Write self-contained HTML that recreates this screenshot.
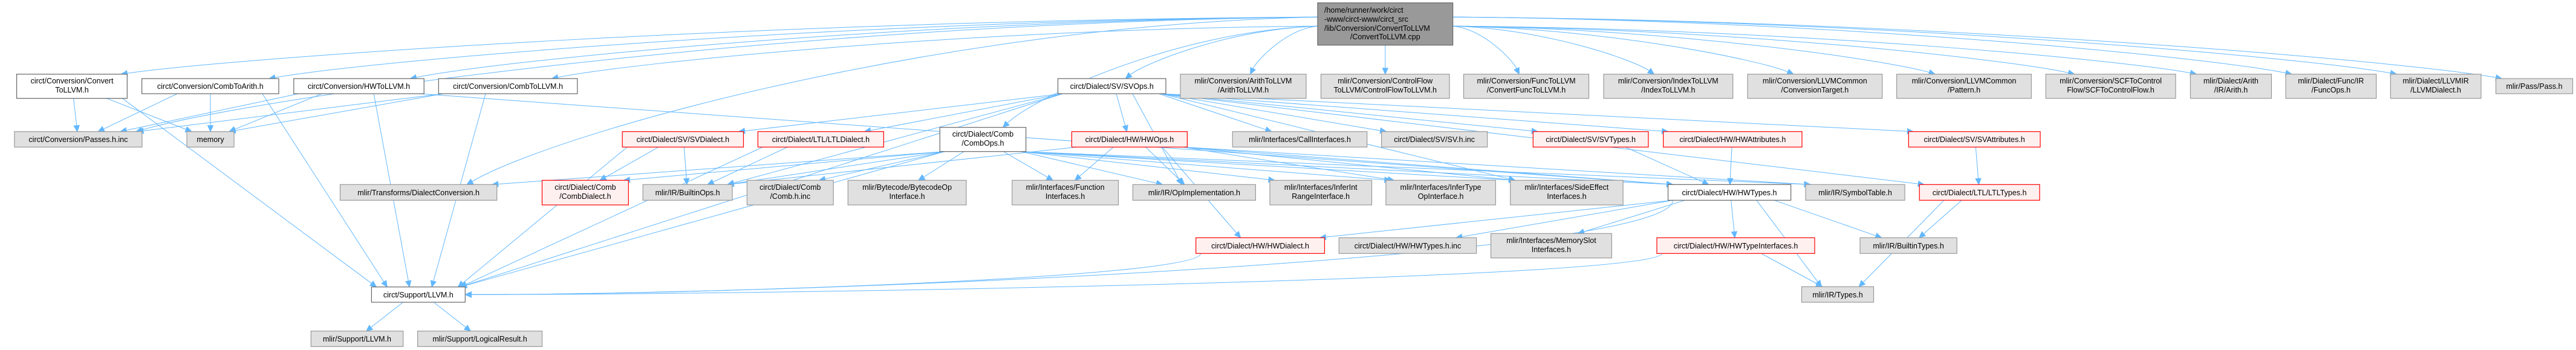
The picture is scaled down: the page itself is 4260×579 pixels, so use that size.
<!DOCTYPE html>
<html><head><meta charset="utf-8">
<style>
html,body{margin:0;padding:0;background:#fff;}
svg{display:block;}
text{font-family:"Liberation Sans","DejaVu Sans",sans-serif;font-size:12.5px;fill:#000;}
.w{fill:#fff;stroke:#666;stroke-width:1.2;}
.g{fill:#e0e0e0;stroke:#999;stroke-width:1.2;}
.r{fill:#fff0f0;stroke:#f00;stroke-width:1.2;}
.d{fill:#999;stroke:#666;stroke-width:1.2;}
</style></head>
<body>
<svg id="s" width="4260" height="579" viewBox="0 0 4260 579" xmlns="http://www.w3.org/2000/svg">
<g id="edges" fill="none" stroke="#63b8ff" stroke-width="1"></g>
<g id="heads" fill="#63b8ff" stroke="#63b8ff" stroke-width="1"></g>
<g id="nodes" text-anchor="middle">
<rect id="T" class="d" x="2179" y="4.7" width="223.6" height="70"/>
<text x="2190" y="21" text-anchor="start">/home/runner/work/circt</text>
<text x="2190" y="36" text-anchor="start">-www/circt-www/circt_src</text>
<text x="2190" y="51" text-anchor="start">/lib/Conversion/ConvertToLLVM</text>
<text x="2290.8" y="65">/ConvertToLLVM.cpp</text>

<rect id="a1" class="w" x="27.6" y="122.7" width="182.7" height="40"/>
<text x="119" y="138">circt/Conversion/Convert</text><text x="119" y="153">ToLLVM.h</text>
<rect id="a2" class="w" x="234.6" y="130" width="226.4" height="25"/>
<text x="347.8" y="147">circt/Conversion/CombToArith.h</text>
<rect id="a3" class="w" x="485.8" y="130" width="215.4" height="25"/>
<text x="593.5" y="147">circt/Conversion/HWToLLVM.h</text>
<rect id="a4" class="w" x="725.3" y="130" width="229.5" height="25"/>
<text x="840" y="147">circt/Conversion/CombToLLVM.h</text>
<rect id="a5" class="w" x="1749.5" y="130" width="178.5" height="25"/>
<text x="1838.7" y="147">circt/Dialect/SV/SVOps.h</text>
<rect id="a6" class="g" x="1952" y="122.7" width="208" height="40"/>
<text x="2056" y="138">mlir/Conversion/ArithToLLVM</text><text x="2056" y="153">/ArithToLLVM.h</text>
<rect id="a7" class="g" x="2184.5" y="122.7" width="212.5" height="40"/>
<text x="2290.7" y="138">mlir/Conversion/ControlFlow</text><text x="2290.7" y="153">ToLLVM/ControlFlowToLLVM.h</text>
<rect id="a8" class="g" x="2420.5" y="122.7" width="207" height="40"/>
<text x="2524" y="138">mlir/Conversion/FuncToLLVM</text><text x="2524" y="153">/ConvertFuncToLLVM.h</text>
<rect id="a9" class="g" x="2652" y="122.7" width="213.7" height="40"/>
<text x="2758.8" y="138">mlir/Conversion/IndexToLLVM</text><text x="2758.8" y="153">/IndexToLLVM.h</text>
<rect id="a10" class="g" x="2890" y="122.7" width="222.7" height="40"/>
<text x="3001.3" y="138">mlir/Conversion/LLVMCommon</text><text x="3001.3" y="153">/ConversionTarget.h</text>
<rect id="a11" class="g" x="3136.6" y="122.7" width="222.7" height="40"/>
<text x="3248" y="138">mlir/Conversion/LLVMCommon</text><text x="3248" y="153">/Pattern.h</text>
<rect id="a12" class="g" x="3383.2" y="122.7" width="214.7" height="40"/>
<text x="3490.5" y="138">mlir/Conversion/SCFToControl</text><text x="3490.5" y="153">Flow/SCFToControlFlow.h</text>
<rect id="a13" class="g" x="3622.4" y="122.7" width="134" height="40"/>
<text x="3689.4" y="138">mlir/Dialect/Arith</text><text x="3689.4" y="153">/IR/Arith.h</text>
<rect id="a14" class="g" x="3780" y="122.7" width="149.7" height="40"/>
<text x="3854.8" y="138">mlir/Dialect/Func/IR</text><text x="3854.8" y="153">/FuncOps.h</text>
<rect id="a15" class="g" x="3953.3" y="122.7" width="149.7" height="40"/>
<text x="4028.1" y="138">mlir/Dialect/LLVMIR</text><text x="4028.1" y="153">/LLVMDialect.h</text>
<rect id="a16" class="g" x="4127.5" y="130" width="127" height="25"/>
<text x="4191" y="147">mlir/Pass/Pass.h</text>

<rect id="b1" class="g" x="23.9" y="217.7" width="211" height="25.6"/>
<text x="129.4" y="235">circt/Conversion/Passes.h.inc</text>
<rect id="b2" class="g" x="309" y="217.7" width="78" height="25.6"/>
<text x="348" y="235">memory</text>
<rect id="b3" class="r" x="1029.2" y="217.7" width="200.3" height="25.6"/>
<text x="1129.3" y="235">circt/Dialect/SV/SVDialect.h</text>
<rect id="b4" class="r" x="1253.4" y="217.7" width="208" height="25.6"/>
<text x="1357.4" y="235">circt/Dialect/LTL/LTLDialect.h</text>
<rect id="b5" class="w" x="1554.3" y="210.7" width="142.3" height="40"/>
<text x="1625.4" y="226">circt/Dialect/Comb</text><text x="1625.4" y="241">/CombOps.h</text>
<rect id="b6" class="r" x="1772.4" y="217.7" width="191" height="25.6"/>
<text x="1867.9" y="235">circt/Dialect/HW/HWOps.h</text>
<rect id="b7" class="g" x="2038.3" y="217.7" width="222.4" height="25.6"/>
<text x="2149.5" y="235">mlir/Interfaces/CallInterfaces.h</text>
<rect id="b8" class="g" x="2284.6" y="217.7" width="175" height="25.6"/>
<text x="2372.1" y="235">circt/Dialect/SV/SV.h.inc</text>
<rect id="b9" class="r" x="2535.3" y="217.7" width="190.6" height="25.6"/>
<text x="2630.6" y="235">circt/Dialect/SV/SVTypes.h</text>
<rect id="b10" class="r" x="2750.6" y="217.7" width="229.4" height="25.6"/>
<text x="2865.3" y="235">circt/Dialect/HW/HWAttributes.h</text>
<rect id="b11" class="r" x="3156.3" y="217.7" width="217.7" height="25.6"/>
<text x="3265.1" y="235">circt/Dialect/SV/SVAttributes.h</text>

<rect id="c1" class="g" x="562.5" y="305.3" width="259.2" height="26"/>
<text x="692.1" y="323">mlir/Transforms/DialectConversion.h</text>
<rect id="c2" class="r" x="896.5" y="298.3" width="142.8" height="40.7"/>
<text x="967.9" y="314">circt/Dialect/Comb</text><text x="967.9" y="329">/CombDialect.h</text>
<rect id="c3" class="g" x="1063.2" y="305.3" width="147.8" height="26"/>
<text x="1137.1" y="323">mlir/IR/BuiltinOps.h</text>
<rect id="c4" class="g" x="1235.4" y="298.3" width="142.8" height="40.7"/>
<text x="1306.8" y="314">circt/Dialect/Comb</text><text x="1306.8" y="329">/Comb.h.inc</text>
<rect id="c5" class="g" x="1402.3" y="298.3" width="195.6" height="40.7"/>
<text x="1500.1" y="314">mlir/Bytecode/BytecodeOp</text><text x="1500.1" y="329">Interface.h</text>
<rect id="c6" class="g" x="1673.7" y="298.3" width="175.8" height="40.7"/>
<text x="1761.6" y="314">mlir/Interfaces/Function</text><text x="1761.6" y="329">Interfaces.h</text>
<rect id="c7" class="g" x="1873.4" y="305.3" width="203" height="26"/>
<text x="1974.9" y="323">mlir/IR/OpImplementation.h</text>
<rect id="c8" class="g" x="2100" y="298.3" width="168.5" height="40.7"/>
<text x="2184.2" y="314">mlir/Interfaces/InferInt</text><text x="2184.2" y="329">RangeInterface.h</text>
<rect id="c9" class="g" x="2291.9" y="298.3" width="181.4" height="40.7"/>
<text x="2382.6" y="314">mlir/Interfaces/InferType</text><text x="2382.6" y="329">OpInterface.h</text>
<rect id="c10" class="g" x="2497.7" y="298.3" width="186.4" height="40.7"/>
<text x="2590.9" y="314">mlir/Interfaces/SideEffect</text><text x="2590.9" y="329">Interfaces.h</text>
<rect id="c11" class="w" x="2758.5" y="305.3" width="203.1" height="26"/>
<text x="2860" y="323">circt/Dialect/HW/HWTypes.h</text>
<rect id="c12" class="g" x="2986" y="305.3" width="164" height="26"/>
<text x="3068" y="323">mlir/IR/SymbolTable.h</text>
<rect id="c13" class="r" x="3174.2" y="305.3" width="198.8" height="26"/>
<text x="3273.6" y="323">circt/Dialect/LTL/LTLTypes.h</text>

<rect id="d1" class="r" x="1977.7" y="393.3" width="212.8" height="26"/>
<text x="2084.1" y="411">circt/Dialect/HW/HWDialect.h</text>
<rect id="d2" class="g" x="2214.3" y="393.3" width="227.3" height="26"/>
<text x="2328" y="411">circt/Dialect/HW/HWTypes.h.inc</text>
<rect id="d3" class="g" x="2465.5" y="386.3" width="199.8" height="40.4"/>
<text x="2565.4" y="402">mlir/Interfaces/MemorySlot</text><text x="2565.4" y="417">Interfaces.h</text>
<rect id="d4" class="r" x="2740" y="393.3" width="261" height="26"/>
<text x="2870.5" y="411">circt/Dialect/HW/HWTypeInterfaces.h</text>
<rect id="d5" class="g" x="3076" y="393.3" width="160.2" height="26"/>
<text x="3156.1" y="411">mlir/IR/BuiltinTypes.h</text>

<rect id="e1" class="w" x="614.4" y="474.7" width="154.9" height="25.3"/>
<text x="691.8" y="492">circt/Support/LLVM.h</text>
<rect id="e2" class="g" x="2979.5" y="474.3" width="119" height="25.7"/>
<text x="3039" y="492">mlir/IR/Types.h</text>

<rect id="f1" class="g" x="514.3" y="547.7" width="152.4" height="25.6"/>
<text x="590.5" y="565">mlir/Support/LLVM.h</text>
<rect id="f2" class="g" x="690.6" y="547.7" width="205.9" height="25.6"/>
<text x="793.5" y="565">mlir/Support/LogicalResult.h</text>
</g>
</svg>
<script>
(function(){
var E=[
["T","a1"],["T","a2"],["T","a3"],["T","a4"],["T","a5"],["T","a6"],["T","a7"],["T","a8"],["T","a9"],["T","a10"],["T","a11"],["T","a12"],["T","a13"],["T","a14"],["T","a15"],["T","a16"],["T","b1"],["T","b5"],["T","c1"],
["a1","b1"],["a1","b2"],["a1","e1"],
["a2","b1"],["a2","b2"],["a2","e1"],
["a3","b1"],["a3","b2"],["a3","e1"],["a3","c11"],
["a4","b1"],["a4","b2"],["a4","e1"],
["a5","b3"],["a5","b4"],["a5","b6"],["a5","b7"],["a5","b8"],["a5","b9"],["a5","b10"],["a5","b11"],["a5","c13"],["a5","c7"],["a5","c10"],["a5","c3"],["a5","e1"],
["b3","c2"],["b3","c3"],["b3","e1"],
["b4","c3"],["b4","e1"],
["b5","c1"],["b5","c2"],["b5","c3"],["b5","c4"],["b5","c5"],["b5","c6"],["b5","c7"],["b5","c8"],["b5","c9"],["b5","c10"],["b5","c11"],["b5","c12"],["b5","e1"],
["b6","c6"],["b6","c7"],["b6","c9"],["b6","c10"],["b6","c11"],["b6","c12"],["b6","c3"],["b6","d1"],
["b9","c11"],["b10","c11"],["b11","c13"],
["c11","d1"],["c11","d2"],["c11","d3"],["c11","d4"],["c11","d5"],["c11","e2"],["c11","e1"],
["d1","e1"],["d4","e1"],["d4","e2"],
["c13","d5"],["c13","e2"],
["e1","f1"],["e1","f2"]
];
function B(id){var r=document.getElementById(id);return{x:+r.getAttribute("x"),y:+r.getAttribute("y"),w:+r.getAttribute("width"),h:+r.getAttribute("height")};}
function cl(v,a,b){return Math.max(a,Math.min(b,v));}
var eg=document.getElementById("edges"),hg=document.getElementById("heads"),NS="http://www.w3.org/2000/svg";
E.forEach(function(e){
 var A=B(e[0]),C=B(e[1]);
 var acx=A.x+A.w/2,bcx=C.x+C.w/2,ab=A.y+A.h;
 var dy=C.y-ab,dx=bcx-acx;
 var sx,sy,tx,ty,c1x,c1y,c2x,c2y;
 var endSide=(e[1]==="e1"||e[1]==="e2") && (Math.abs(dx)-C.w/2)>4*dy && e[0]!=="T";
 if(e[0]==="T" && Math.abs(dx)>A.w/2+60){
   sx=dx>0?A.x+A.w:A.x; sy=A.y+A.h*0.55+ (Math.abs(dx)>1500?-15:0);
   tx=bcx+cl(-dx*0.05,-C.w/2+10,C.w/2-10); ty=C.y;
   c1x=sx+(tx-sx)*0.45; c1y=sy+(ty-sy)*0.05;
   c2x=sx+(tx-sx)*0.9; c2y=ty-(ty-sy)*0.3;
 } else if(endSide){
   sx=acx+cl(dx*0.2,-A.w/2+8,A.w/2-8); sy=ab;
   tx=dx<0?C.x+C.w:C.x; ty=C.y+C.h*0.5;
   c1x=sx; c1y=sy+(ty-sy)*0.6;
   c2x=tx+(sx-tx)*0.3; c2y=ty;
 } else {
   sx=acx+cl(dx*0.25,-A.w/2+8,A.w/2-8); sy=ab;
   tx=bcx+cl(-dx*0.15,-C.w/2+8,C.w/2-8); ty=C.y;
   c1x=sx+(tx-sx)/3; c1y=sy+(ty-sy)/3;
   c2x=sx+(tx-sx)*2/3; c2y=sy+(ty-sy)*2/3;
 }
 var vx=tx-c2x,vy=ty-c2y,L=Math.sqrt(vx*vx+vy*vy)||1;vx/=L;vy/=L;
 var ex=tx-vx*9,ey=ty-vy*9;
 var p=document.createElementNS(NS,"path");
 p.setAttribute("d","M"+sx.toFixed(1)+","+sy.toFixed(1)+" C"+c1x.toFixed(1)+","+c1y.toFixed(1)+" "+c2x.toFixed(1)+","+c2y.toFixed(1)+" "+ex.toFixed(1)+","+ey.toFixed(1));
 eg.appendChild(p);
 var bx=tx-vx*10,by=ty-vy*10,px=-vy*4.5,py=vx*4.5;
 var h=document.createElementNS(NS,"polygon");
 h.setAttribute("points",tx.toFixed(1)+","+ty.toFixed(1)+" "+(bx+px).toFixed(1)+","+(by+py).toFixed(1)+" "+(bx-px).toFixed(1)+","+(by-py).toFixed(1));
 hg.appendChild(h);
});
})();
</script>
</body></html>
